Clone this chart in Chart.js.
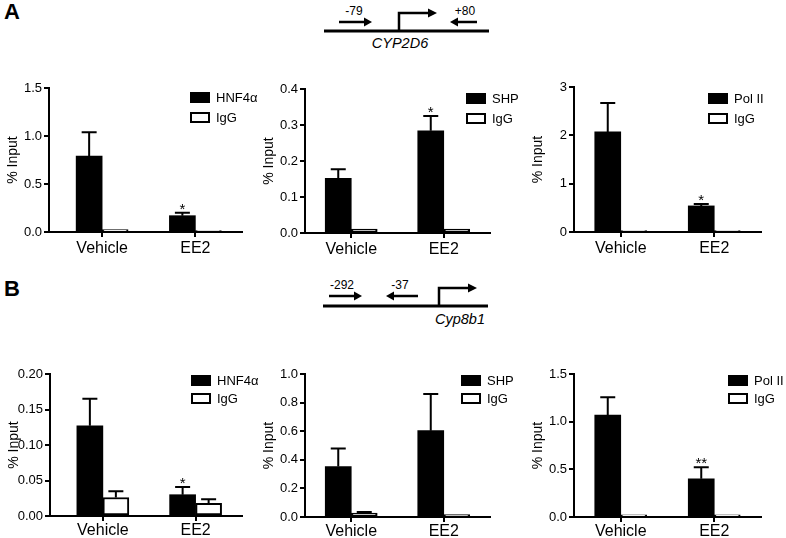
<!DOCTYPE html>
<html>
<head>
<meta charset="utf-8">
<script src="https://cdn.jsdelivr.net/npm/chart.js@4.4.1/dist/chart.umd.min.js"></script>
<style>
  html, body { margin: 0; padding: 0; background: #fff; }
  #page { position: relative; width: 786px; height: 538px; overflow: hidden; font-family: "Liberation Sans", Arial, sans-serif; }
  #page canvas { position: absolute; }
  #genes { position: absolute; left: 0; top: 0; }
</style>
</head>
<body>
<div id="page">
  <svg id="genes" width="786" height="538" font-family="Liberation Sans, Arial, sans-serif">
    <!-- panel letters -->
    <text x="4" y="19" font-size="22" font-weight="bold">A</text>
    <text x="4" y="296" font-size="22" font-weight="bold">B</text>

    <!-- CYP2D6 promoter -->
    <g stroke="#000" fill="none">
      <line x1="324" y1="31" x2="489" y2="31" stroke-width="3"/>
      <polyline points="399,31 399,13 429,13" stroke-width="2.5"/>
      <line x1="339" y1="22" x2="365" y2="22" stroke-width="2.5"/>
      <line x1="457" y1="22" x2="477" y2="22" stroke-width="2.5"/>
    </g>
    <g fill="#000">
      <polygon points="428,8.5 437,13 428,17.5"/>
      <polygon points="364,17.5 372,22 364,26.5"/>
      <polygon points="458,17.5 450,22 458,26.5"/>
      <text x="354" y="15" font-size="12" text-anchor="middle">-79</text>
      <text x="465" y="15" font-size="12" text-anchor="middle">+80</text>
      <text x="400" y="48" font-size="14.5" font-style="italic" text-anchor="middle">CYP2D6</text>
    </g>

    <!-- Cyp8b1 promoter -->
    <g stroke="#000" fill="none">
      <line x1="323" y1="306" x2="488" y2="306" stroke-width="3"/>
      <polyline points="439,306 439,288 469,288" stroke-width="2.5"/>
      <line x1="329" y1="296" x2="355" y2="296" stroke-width="2.5"/>
      <line x1="393" y1="296" x2="418" y2="296" stroke-width="2.5"/>
    </g>
    <g fill="#000">
      <polygon points="468,283.5 477,288 468,292.5"/>
      <polygon points="354,291.5 362,296 354,300.5"/>
      <polygon points="394,291.5 386,296 394,300.5"/>
      <text x="342" y="289" font-size="12" text-anchor="middle">-292</text>
      <text x="400" y="289" font-size="12" text-anchor="middle">-37</text>
      <text x="460" y="324" font-size="14.5" font-style="italic" text-anchor="middle">Cyp8b1</text>
    </g>
  </svg>
</div>
<script>
// ChIP data, % input (mean and SEM)

const groups = ["Vehicle", "EE2"];

// A - CYP2D6
const a1Hnf4a = [0.79, 0.17];
const a1Hnf4aSem = [0.25, 0.03];
const a1IgG = [0.025, 0.015];
const a1IgGSem = [0, 0];
const a1Stars = ["", "*"];

const a2Shp = [0.152, 0.284];
const a2ShpSem = [0.025, 0.041];
const a2IgG = [0.011, 0.011];
const a2IgGSem = [0, 0];
const a2Stars = ["", "*"];

const a3PolII = [2.07, 0.54];
const a3PolIISem = [0.6, 0.04];
const a3IgG = [0.03, 0.03];
const a3IgGSem = [0, 0];
const a3Stars = ["", "*"];

// B - Cyp8b1
const b1Hnf4a = [0.127, 0.03];
const b1Hnf4aSem = [0.038, 0.011];
const b1IgG = [0.026, 0.018];
const b1IgGSem = [0.009, 0.0055];
const b1Stars = ["", "*"];

const b2Shp = [0.353, 0.604];
const b2ShpSem = [0.126, 0.256];
const b2IgG = [0.028, 0.017];
const b2IgGSem = [0.007, 0];
const b2Stars = ["", ""];

const b3PolII = [1.07, 0.4];
const b3PolIISem = [0.186, 0.123];
const b3IgG = [0.024, 0.024];
const b3IgGSem = [0, 0];
const b3Stars = ["", "**"];

const FONT = '"Liberation Sans", Arial, sans-serif';
Chart.defaults.font.family = FONT;
Chart.defaults.color = "#000";

// panel placement (chart area in page pixels); gapL = extra room before the first group
const panels = [
  { name: "HNF4\u03b1", values: a1Hnf4a, sem: a1Hnf4aSem, igg: a1IgG, iggSem: a1IgGSem, stars: a1Stars,
    axisX: 49, right: 242, top: 88, bottom: 232, max: 1.5, step: 0.5, dec: 1, lx: -52, ly: 4, gap: 20, gapL: 0.07, xPad: 2 },
  { name: "SHP", values: a2Shp, sem: a2ShpSem, igg: a2IgG, iggSem: a2IgGSem, stars: a2Stars,
    axisX: 305, right: 490, top: 89, bottom: 233, max: 0.4, step: 0.1, dec: 1, lx: -24, ly: 4, gap: 20, gapL: 0, xPad: 2 },
  { name: "Pol II", values: a3PolII, sem: a3PolIISem, igg: a3IgG, iggSem: a3IgGSem, stars: a3Stars,
    axisX: 574, right: 761, top: 87, bottom: 232, max: 3, step: 1, dec: 0, lx: -53, ly: 6, gap: 20, gapL: 0, xPad: 2 },
  { name: "HNF4\u03b1", values: b1Hnf4a, sem: b1Hnf4aSem, igg: b1IgG, iggSem: b1IgGSem, stars: b1Stars,
    axisX: 50, right: 242, top: 374, bottom: 516, max: 0.2, step: 0.05, dec: 2, lx: -51, ly: 1, gap: 18, gapL: 0.07, xPad: 0 },
  { name: "SHP", values: b2Shp, sem: b2ShpSem, igg: b2IgG, iggSem: b2IgGSem, stars: b2Stars,
    axisX: 305, right: 490, top: 374, bottom: 517, max: 1.0, step: 0.2, dec: 1, lx: -29, ly: 1, gap: 18, gapL: 0, xPad: 0 },
  { name: "Pol II", values: b3PolII, sem: b3PolIISem, igg: b3IgG, iggSem: b3IgGSem, stars: b3Stars,
    axisX: 574, right: 761, top: 374, bottom: 517, max: 1.5, step: 0.5, dec: 1, lx: -33, ly: 1, gap: 18, gapL: 0, xPad: 0 },
];

// error bars (upper only), significance stars and the legend boxes
const prismBits = {
  id: "prism",
  afterDatasetsDraw(chart, args, opts) {
    const ctx = chart.ctx;
    const y = chart.scales.y;
    ctx.save();
    ctx.strokeStyle = "#000";
    ctx.lineWidth = 2;
    chart.data.datasets.forEach((ds, i) => {
      chart.getDatasetMeta(i).data.forEach((bar, j) => {
        const s = ds.sem[j];
        if (!s) return;
        const top = y.getPixelForValue(ds.data[j] + s);
        ctx.beginPath();
        ctx.moveTo(bar.x, bar.y);
        ctx.lineTo(bar.x, top);
        ctx.moveTo(bar.x - 7.5, top);
        ctx.lineTo(bar.x + 7.5, top);
        ctx.stroke();
      });
    });

    // stars over the antibody bars
    const ds0 = chart.data.datasets[0];
    ctx.fillStyle = "#000";
    ctx.font = "15px " + FONT;
    ctx.textAlign = "center";
    ctx.textBaseline = "alphabetic";
    chart.getDatasetMeta(0).data.forEach((bar, j) => {
      if (!opts.stars[j]) return;
      const top = y.getPixelForValue(ds0.data[j] + (ds0.sem[j] || 0));
      ctx.fillText(opts.stars[j], bar.x, top + 1);
    });
    ctx.restore();
  },
  afterDraw(chart, args, opts) {
    const ctx = chart.ctx;
    const area = chart.chartArea;
    const x0 = area.right + opts.lx;
    const y0 = area.top + opts.ly;
    ctx.save();
    // antibody
    ctx.fillStyle = "#000";
    ctx.fillRect(x0, y0, 20, 11);
    // IgG
    ctx.fillStyle = "#fff";
    ctx.fillRect(x0, y0 + opts.gap, 20, 11);
    ctx.strokeStyle = "#000";
    ctx.lineWidth = 2;
    ctx.strokeRect(x0 + 1, y0 + opts.gap + 1, 18, 9);
    ctx.fillStyle = "#000";
    ctx.font = "13px " + FONT;
    ctx.textAlign = "left";
    ctx.textBaseline = "middle";
    chart.data.datasets.forEach((ds, i) => {
      ctx.fillText(ds.label, x0 + 26, y0 + 6 + i * opts.gap);
    });
    ctx.restore();
  },
};

const page = document.getElementById("page");

panels.forEach((p) => {
  const left = p.axisX - 48;
  const top = p.top - 14;
  const canvas = document.createElement("canvas");
  canvas.width = p.right + 45 - left;
  canvas.height = p.bottom + 32 - top;
  canvas.style.left = left + "px";
  canvas.style.top = top + "px";
  page.appendChild(canvas);

  new Chart(canvas, {
    type: "bar",
    data: {
      labels: groups,
      datasets: [
        {
          label: p.name,
          data: p.values,
          sem: p.sem,
          backgroundColor: "#000",
          borderWidth: 0,
          barThickness: 26,
        },
        {
          label: "IgG",
          data: p.igg,
          sem: p.iggSem,
          backgroundColor: "#fff",
          borderColor: "#000",
          borderWidth: 2,
          borderSkipped: false,
          barThickness: 26,
        },
      ],
    },
    options: {
      responsive: false,
      animation: false,
      events: [],
      layout: { padding: { left: 0, top: 14, right: 45, bottom: 0 } },
      datasets: { bar: { categoryPercentage: 0.73, barPercentage: 1 } },
      plugins: {
        legend: { display: false },
        tooltip: { enabled: false },
        prism: { stars: p.stars, lx: p.lx, ly: p.ly, gap: p.gap },
      },
      scales: {
        x: {
          afterFit(s) { s.height = 32; },
          afterBuildTicks(s) {
            // leave a little space between the y axis and the first group
            if (p.gapL) {
              s._startValue -= p.gapL;
              s._valueRange += p.gapL;
            }
          },
          ticks: { color: "#000", font: { size: 16 }, padding: p.xPad },
          grid: { offset: false, drawOnChartArea: false, color: "#000", lineWidth: 2, tickLength: 5 },
          border: { color: "#000", width: 2 },
        },
        y: {
          min: 0,
          max: p.max,
          afterFit(s) { s.width = 48; },
          ticks: {
            stepSize: p.step,
            color: "#000",
            font: { size: 13 },
            padding: 2,
            callback: (v) => Number(v).toFixed(p.dec),
          },
          grid: { drawOnChartArea: false, color: "#000", lineWidth: 2, tickLength: 5 },
          border: { color: "#000", width: 2 },
          title: { display: true, text: "% Input", color: "#000", font: { size: 14 }, padding: { top: 4, bottom: 0 } },
        },
      },
    },
    plugins: [prismBits],
  });
});
</script>
</body>
</html>
